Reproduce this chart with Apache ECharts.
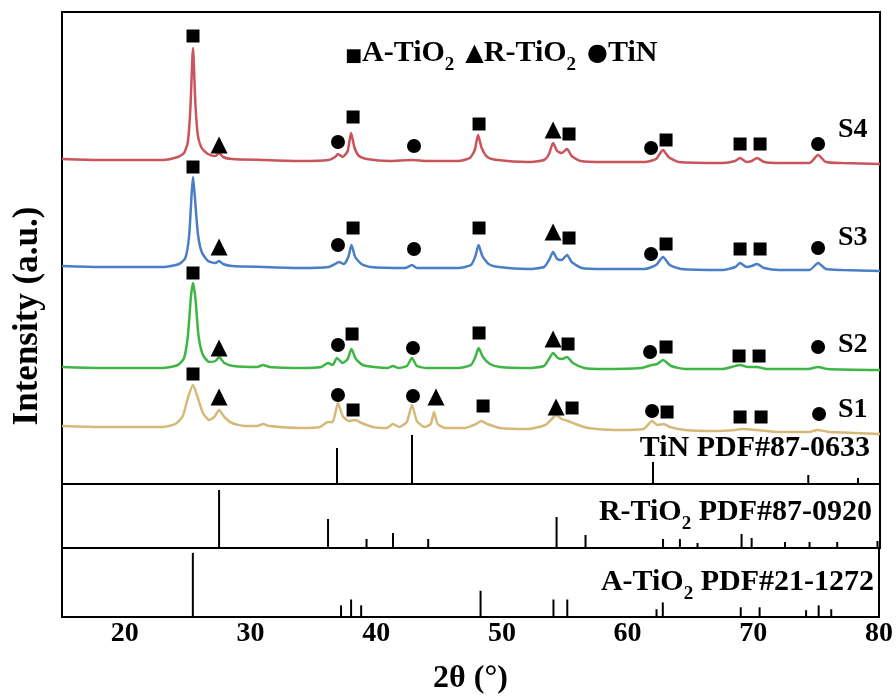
<!DOCTYPE html>
<html>
<head>
<meta charset="utf-8">
<script src="https://cdn.jsdelivr.net/npm/echarts@6/dist/echarts.min.js"></script>
<style>
  html, body { margin: 0; padding: 0; background: #fff; }
  #chart { width: 896px; height: 696px; }
</style>
</head>
<body>
<div id="chart"></div>
<script>
// XRD patterns, [2theta, intensity a.u.] (already offset for stacking)
const s4 = [[15,325],[18,324],[21,324],[23,324],[24.2,327],[24.7,331],[25.0,342],[25.2,375],[25.41,436],[25.6,380],[25.8,348],[26.1,336],[26.6,330],[27.2,328],[27.48,331],[27.8,327],[28.5,325],[31,324],[34,323],[36.2,324],[36.7,327],[36.93,330],[37.3,327],[37.7,333],[37.97,351],[38.25,336],[38.6,328],[39.2,325],[41,323],[42.8,324],[44,323],[46.5,323],[47.4,326],[47.8,334],[48.06,349],[48.35,336],[48.8,327],[49.6,324],[52,322],[53.3,324],[53.7,330],[54.02,341],[54.35,333],[54.7,331],[55.13,335],[55.5,328],[56.2,323],[58,322],[61.3,322],[62.2,325],[62.76,334],[63.2,327],[64,322],[67.5,321],[68.5,323],[68.88,326],[69.4,322],[69.8,323],[70.23,326],[70.8,322],[72,321],[74.4,321],[75.08,329],[75.7,322],[77,321],[80,320]];
const s3 = [[15,218],[18,217],[21,217],[23,217],[24.3,220],[24.8,226],[25.1,248],[25.3,290],[25.41,307],[25.55,288],[25.8,250],[26.1,232],[26.6,223],[27.2,221],[27.48,223],[27.8,220],[28.5,218],[31,217],[34,216],[36.2,217],[36.7,220],[37.0,222],[37.4,220],[37.75,227],[38.0,239],[38.3,227],[38.8,220],[39.5,217],[42.3,216],[42.81,219],[43.2,216],[46.5,216],[47.5,219],[47.85,228],[48.1,239],[48.4,228],[48.9,220],[49.7,217],[52,215],[53.3,217],[53.7,224],[54.02,232],[54.35,225],[54.7,224],[55.13,229],[55.5,222],[56.3,216],[58,215],[61.3,215],[62.2,219],[62.76,227],[63.3,219],[64.2,215],[67.5,214],[68.5,217],[68.88,221],[69.4,217],[69.8,218],[70.23,220],[70.8,216],[72,214],[74.4,214],[75.08,221],[75.7,215],[77,214],[80,213]];
const s2 = [[15,117],[18,116],[21,116],[23,116],[24.2,119],[24.7,126],[25.0,148],[25.25,188],[25.41,201],[25.6,186],[25.85,148],[26.2,129],[26.7,122],[27.2,123],[27.48,127],[27.9,121],[28.6,118],[30.5,117],[30.97,119],[31.5,117],[34,116],[35.6,117],[36.14,121],[36.5,119],[36.85,126],[37.3,121],[37.7,125],[38.0,135],[38.35,125],[38.9,119],[39.8,117],[40.9,116],[41.3,118],[41.7,116],[42.4,118],[42.81,126],[43.2,118],[44,116],[46.5,116],[47.5,119],[47.85,127],[48.1,136],[48.45,127],[49.0,120],[49.8,117],[52,116],[53.3,118],[53.7,125],[54.02,131],[54.4,126],[54.75,125],[55.13,127],[55.6,121],[56.5,116],[58,115],[61.0,116],[61.89,119],[62.3,120],[62.76,124],[63.4,118],[64.5,115],[67.5,115],[68.88,119],[69.5,117],[70.23,117],[71,115],[74.3,115],[75.08,117],[75.8,115],[80,114]];
const s1 = [[15,58],[18,57],[21,57],[23,57],[24.0,60],[24.6,68],[25.0,86],[25.41,99],[25.8,86],[26.2,71],[26.7,64],[27.1,67],[27.48,74],[27.9,67],[28.5,61],[29.5,58],[30.5,58],[30.97,60],[31.5,58],[34,56],[35.5,57],[36.14,62],[36.5,62],[36.93,81],[37.3,68],[37.8,63],[38.3,64],[38.8,61],[39.7,57],[40.8,56],[41.3,60],[41.8,57],[42.4,62],[42.81,79],[43.2,63],[43.8,57],[44.3,60],[44.56,72],[44.85,60],[45.5,56],[47,56],[47.9,60],[48.3,63],[48.8,60],[49.8,56],[52,55],[53.4,59],[54.0,66],[54.26,69],[54.7,65],[55.2,63],[55.8,60],[56.8,56],[59,54],[61.2,55],[61.89,63],[62.3,59],[62.8,60],[63.3,57],[64.5,54],[67,53],[68.5,54],[69,55],[70.2,54],[72,52],[74.4,52],[75.0,54],[76,52],[78,51],[80,50]];

// phase markers [2theta, intensity]
const anataseMarks = [[25.41,448],[38.13,367],[48.14,360],[55.29,350],[63.0,344],[68.88,340],[70.47,340],
  [25.41,317],[38.13,256],[48.14,256],[55.29,246],[63.0,240],[68.88,235],[70.47,235],
  [25.41,211],[38.05,150],[48.14,151],[55.21,140],[63.0,137],[68.8,128],[70.39,128],
  [25.41,110],[38.13,74],[48.46,78],[55.53,76],[63.08,72],[68.88,67],[70.55,67]];
const rutileMarks = [[27.48,339],[54.02,354],[27.48,237],[54.02,252],[27.48,136],[54.02,145],
  [27.48,87],[44.72,87],[54.26,77]];
const tinMarks = [[36.93,342],[42.97,338],[61.81,336],[75.08,340],
  [36.93,239],[42.97,235],[61.81,230],[75.08,236],
  [36.93,139],[42.89,136],[61.73,132],[75.08,137],
  [36.93,89],[42.89,88],[61.89,73],[75.16,70]];

// reference patterns (PDF cards)
const tinPos = [36.85, 42.81, 61.96, 74.3, 78.25];
const tinInt = [36, 49, 22, 9, 6];
const rutPos = [27.48, 36.14, 39.2, 41.3, 44.1, 54.3, 56.6, 62.76, 64.1, 65.5, 69.0, 69.8, 72.45, 74.4, 76.6, 79.8];
const rutInt = [58, 29, 9, 15, 9, 31, 13, 9, 9, 5, 14, 10, 6, 6, 6, 7];
const anaPos = [25.41, 37.2, 38.0, 38.8, 48.3, 54.1, 55.2, 62.3, 62.8, 69.0, 70.5, 74.2, 75.2, 76.2];
const anaInt = [66, 12, 18, 12, 27, 18, 18, 8, 15, 10, 10, 7, 12, 8];

const FONT = "'Liberation Serif', 'Times New Roman', serif";
const chart = echarts.init(document.getElementById('chart'));

function xAx(idx, showLabel) {
  return {
    type: 'value', gridIndex: idx, min: 15, max: 80, interval: 5,
    axisLine: { show: false }, axisTick: { show: false }, splitLine: { show: false },
    axisLabel: {
      show: showLabel, margin: 3, color: '#000', fontFamily: FONT, fontWeight: 'bold', fontSize: 28,
      formatter: v => (v % 10 === 0 ? String(v) : '')
    },
    name: showLabel ? '2θ (°)' : '', nameLocation: 'middle', nameGap: 46,
    nameTextStyle: { color: '#000', fontFamily: FONT, fontWeight: 'bold', fontSize: 32 }
  };
}
function yAx(idx, max) {
  return { type: 'value', gridIndex: idx, min: 0, max: max, show: false };
}
function sticks(pos, ints) {
  return pos.map((p, i) => [p, ints[i]]);
}
function curve(data, color) {
  return { type: 'line', data: data, showSymbol: false, smooth: 0.2,
    lineStyle: { color: color, width: 2.5 }, silent: true, z: 2 };
}
function marks(data, symbol, size) {
  return { type: 'scatter', data: data, symbol: symbol, symbolSize: size,
    itemStyle: { color: '#000', opacity: 1 }, silent: true, z: 3 };
}
function bars(data, g) {
  return { type: 'bar', xAxisIndex: g, yAxisIndex: g, data: data, barWidth: 2,
    itemStyle: { color: '#000' }, silent: true };
}

const labelStyle = { fill: '#000', font: 'bold 28px ' + FONT };
const rich = {
  b: { fontFamily: FONT, fontWeight: 'bold', fontSize: 30, color: '#000', verticalAlign: 'bottom' },
  sp: { fontFamily: FONT, fontSize: 30, color: '#000', verticalAlign: 'bottom', width: 11 },
  sub: { fontFamily: FONT, fontWeight: 'bold', fontSize: 19, color: '#000', verticalAlign: 'bottom', padding: [0, 0, -7, 0] },
  sq: { fontFamily: "'DejaVu Sans'", fontSize: 18, color: '#000', verticalAlign: 'bottom', padding: [0, 0, 3, 0] },
  sym: { fontFamily: "'DejaVu Sans'", fontSize: 24, color: '#000', verticalAlign: 'bottom', padding: [0, 0, 2, 0] }
};
function refLabel(text, x, y) {
  return { type: 'text', x: x, y: y, style: { text: text, rich: rich, align: 'right', verticalAlign: 'middle' } };
}

chart.setOption({
  animation: false,
  grid: [
    { left: 62, right: 16, top: 12, height: 472, show: true, borderColor: '#000', borderWidth: 2 },
    { left: 62, right: 16, top: 484, height: 64, show: true, borderColor: '#000', borderWidth: 2 },
    { left: 62, right: 16, top: 548, height: 71, show: true, borderColor: '#000', borderWidth: 2 }
  ],
  xAxis: [xAx(0, false), xAx(1, false), xAx(2, true)],
  yAxis: [yAx(0, 472), yAx(1, 64), yAx(2, 71)],
  series: [
    curve(s1, '#d5b978'), curve(s2, '#3fb544'), curve(s3, '#4a7ec6'), curve(s4, '#c9545b'),
    marks(anataseMarks, 'rect', 13), marks(rutileMarks, 'triangle', 17), marks(tinMarks, 'circle', 14),
    bars(sticks(tinPos, tinInt), 0), bars(sticks(rutPos, rutInt), 1), bars(sticks(anaPos, anaInt), 2)
  ],
  graphic: [
    { type: 'text', x: 345, y: 53, style: { text: '{sq|■}{b|A-TiO}{sub|2}{sp| }{sym|▲}{b|R-TiO}{sub|2}{sp| }{sym|●}{b|TiN}', rich: rich, verticalAlign: 'middle' } },
    { type: 'text', left: 838, top: 116, style: Object.assign({ text: 'S4' }, labelStyle) },
    { type: 'text', left: 838, top: 224, style: Object.assign({ text: 'S3' }, labelStyle) },
    { type: 'text', left: 838, top: 331, style: Object.assign({ text: 'S2' }, labelStyle) },
    { type: 'text', left: 838, top: 396, style: Object.assign({ text: 'S1' }, labelStyle) },
    refLabel('{b|TiN PDF#87-0633}', 870, 448),
    refLabel('{b|R-TiO}{sub|2}{b| PDF#87-0920}', 872, 512),
    refLabel('{b|A-TiO}{sub|2}{b| PDF#21-1272}', 874, 582),
    { type: 'text', x: 28, y: 316, rotation: Math.PI / 2,
      style: { text: 'Intensity (a.u.)', fill: '#000', font: 'bold 35px ' + FONT, align: 'center', verticalAlign: 'middle' } }
  ]
});
</script>
</body>
</html>
